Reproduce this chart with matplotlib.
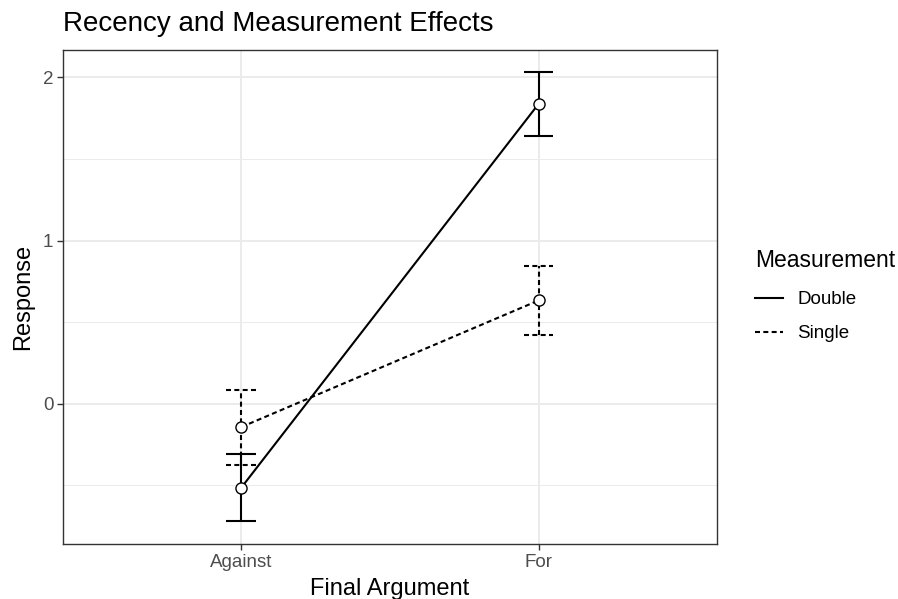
import matplotlib.pyplot as plt

plt.rcParams['font.family'] = ['Liberation Sans', 'DejaVu Sans']

categories = ['Against', 'For']
groups = ['Double', 'Single']
means = {'Double': [-0.514, 1.838], 'Single': [-0.143, 0.633]}
upper = {'Double': [-0.306, 2.032], 'Single': [0.083, 0.847]}
lower = {'Double': [-0.722, 1.642], 'Single': [-0.376, 0.421]}
styles = {'Double': '-', 'Single': (0, (2.4, 1.6))}

fig = plt.figure(figsize=(8.98, 5.99), dpi=100)
ax = fig.add_axes([63 / 898, 1 - 544 / 599, 654 / 898, 494 / 599])

xs = list(range(1, len(categories) + 1))
cap = 0.05
for g in groups:
    ls = styles[g]
    ax.plot(xs, means[g], linestyle=ls, color='black', lw=1.5, label=g, zorder=3)
    ax.vlines(xs, lower[g], upper[g], linestyles=[ls], colors='black', lw=1.5, zorder=3)
    for x, lo, hi in zip(xs, lower[g], upper[g]):
        ax.hlines([lo, hi], x - cap, x + cap, linestyles=[ls], colors='black', lw=1.5, zorder=3)
    ax.plot(xs, means[g], linestyle='none', marker='o', ms=8, mfc='white', mec='black',
            mew=1.0, zorder=4)

ax.set_xlim(0.4, 2.6)
ax.set_ylim(-0.86, 2.168)
ax.set_xticks(xs)
ax.set_xticklabels(categories)
ax.set_yticks([0, 1, 2])
ax.set_yticks([-0.5, 0.5, 1.5], minor=True)
ax.set_xticks([], minor=True)

ax.grid(which='major', color='#EBEBEB', lw=1.4, zorder=0)
ax.grid(which='minor', axis='y', color='#EBEBEB', lw=0.7, zorder=0)
ax.set_axisbelow(True)
for s in ax.spines.values():
    s.set_color('#333333')
    s.set_linewidth(1.0)
ax.tick_params(which='major', length=4, width=1.0, color='#333333', labelcolor='#4D4D4D',
               labelsize=13.5, pad=3)
ax.tick_params(which='minor', length=0)

ax.set_xlabel('Final Argument', fontsize=17, labelpad=5)
ax.set_ylabel('Response', fontsize=17, labelpad=6)
ax.set_title('Recency and Measurement Effects', loc='left', fontsize=20, pad=14)

leg = ax.legend(title='Measurement', loc='upper left', bbox_to_anchor=(738 / 898, 1 - 232 / 599),
                bbox_transform=fig.transFigure, frameon=False, fontsize=13.5,
                title_fontsize=16.5, handlelength=1.5, handletextpad=0.75,
                labelspacing=0.9, alignment='left')
leg._legend_box.sep = 14

fig.savefig('out.png', dpi=100)
